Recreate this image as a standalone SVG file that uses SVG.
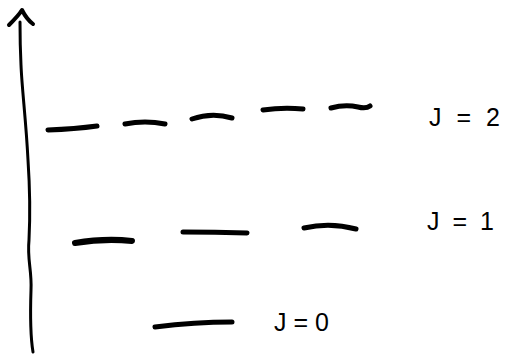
<svg xmlns="http://www.w3.org/2000/svg" width="509" height="358" viewBox="0 0 509 358">
<style>
.ln{fill:none;stroke:#000;stroke-linecap:round;stroke-linejoin:round}
.lvl{stroke-width:5}
.ax{stroke-width:3}
.lbl{font-family:"Liberation Sans",Arial,sans-serif;font-size:25px;fill:#000}
</style>
<rect width="509" height="358" fill="#fff"/>
<g id="axis">
<path class="ln ax" d="M33,352 C31,340 30,320 31,290 C32,270 27,260 29,240 C30,220 30,190 28,160 C26,120 22,90 21,65 C20,45 20,35 20,22"/>
<path class="ln ax" style="stroke-width:4" d="M9,25 C14,20 19,15 22,10 C25,16 29,21 33,24"/>
</g>
<g id="level-J2">
<path class="ln lvl" d="M48,130 Q75,129 97,126"/>
<path class="ln lvl" d="M125,124 Q145,120 165,124"/>
<path class="ln lvl" d="M192,119 Q212,112 232,118"/>
<path class="ln lvl" d="M263,110 Q283,107 303,109"/>
<path class="ln lvl" d="M331,108 Q345,104 358,107 Q366,109 370,106"/>
</g>
<g id="level-J1">
<path class="ln lvl" style="stroke-width:6" d="M75,243 Q105,238 132,241"/>
<path class="ln lvl" d="M183,232 Q215,232 247,233"/>
<path class="ln lvl" d="M304,228 Q330,222 356,229"/>
</g>
<g id="level-J0">
<path class="ln lvl" d="M155,327 Q195,322 232,322"/>
</g>
<g id="labels">
<text class="lbl" x="429" y="126" letter-spacing="4">J = 2</text>
<text class="lbl" x="427" y="230" letter-spacing="3">J = 1</text>
<text class="lbl" x="274" y="331">J = 0</text>
</g>
</svg>
